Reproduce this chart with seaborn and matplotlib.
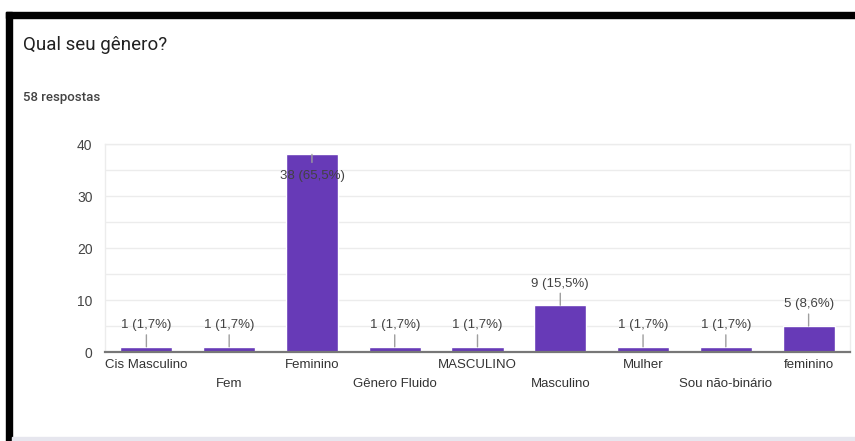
import matplotlib
matplotlib.use("Agg")
import matplotlib.pyplot as plt
from matplotlib.patches import Rectangle
import pandas as pd
import seaborn as sns

# answers to "Qual seu gênero?"
categories = ["Cis Masculino", "Fem", "Feminino", "Gênero Fluido", "MASCULINO",
              "Masculino", "Mulher", "Sou não-binário", "feminino"]
counts = [1, 1, 38, 1, 1, 9, 1, 1, 5]
percents = ["1,7%", "1,7%", "65,5%", "1,7%", "1,7%", "15,5%", "1,7%", "1,7%", "8,6%"]
total_responses = 58
y_ticks = [0, 10, 20, 30, 40]

sns.set_theme(style="white")
plt.rcParams["font.family"] = ["Liberation Sans", "DejaVu Sans"]

df = pd.DataFrame({"genero": categories, "n": counts})

W, H = 855, 441
fig = plt.figure(figsize=(W / 100, H / 100), dpi=100)
fig.patch.set_facecolor("white")
ax = fig.add_axes([105 / W, 1 - 352 / H, (850 - 105) / W, (352 - 144) / H])

sns.barplot(data=df, x="genero", y="n", color="#673ab7", saturation=1,
            width=0.63, ax=ax)

ax.set_xlim(-0.5, len(categories) - 0.5)
ax.set_ylim(0, 40)
ax.set_yticks(y_ticks)
ax.set_yticks(range(5, 40, 10), minor=True)
ax.grid(True, axis="y", which="both", color="#ececec", lw=1)
ax.set_axisbelow(True)
for side in ["left", "right", "top"]:
    ax.spines[side].set_color("#ececec")
    ax.spines[side].set_linewidth(1)
ax.spines["bottom"].set_color("#777777")
ax.spines["bottom"].set_linewidth(1.6)
ax.set_xlabel("")
ax.set_ylabel("")
ax.tick_params(axis="y", length=0, pad=9, labelsize=10, labelcolor="#444444")
ax.tick_params(axis="y", which="minor", length=0)
ax.tick_params(axis="x", length=0, pad=5, labelsize=9.5, labelcolor="#333333")
for lab in ax.get_xticklabels()[1::2]:
    lab.set_y(-0.092)

# value annotations with a small stem, like google forms
for i, (v, p) in enumerate(zip(counts, percents)):
    inside = v + 4 > ax.get_ylim()[1]
    sgn = -1 if inside else 1
    stem = 5.8 if inside else 8.6
    ax.annotate("", xy=(i, v), xytext=(0, sgn * stem), textcoords="offset points",
                arrowprops=dict(arrowstyle="-", color="#9e9e9e", lw=1,
                                shrinkA=0, shrinkB=0))
    ax.annotate(f"{v} ({p})", xy=(i, v), xytext=(0, sgn * 15.5),
                textcoords="offset points", ha="center", va="center",
                fontsize=9.5, color="#424242")

# header text
fig.text(23 / W, 1 - 45 / H, "Qual seu gênero?", fontsize=13.5, color="#212121",
         family=["Roboto", "DejaVu Sans"], va="center", ha="left")
fig.text(23 / W, 1 - 97 / H, f"{total_responses} respostas", fontsize=9.5,
         color="#424242", family=["Roboto", "DejaVu Sans"], weight="medium",
         va="center", ha="left")

# screenshot frame: thick black border top/left, light line at bottom
fig.patches.append(Rectangle((6 / W, 1 - 18 / H), 1 - 6 / W, 6 / H,
                             transform=fig.transFigure, color="black", zorder=10))
fig.patches.append(Rectangle((6 / W, 0), 6 / W, 1 - 12 / H,
                             transform=fig.transFigure, color="black", zorder=10))
fig.patches.append(Rectangle((12 / W, 0), 1, 4 / H,
                             transform=fig.transFigure, color="#e6e6ee", zorder=10))

fig.savefig("out.png", dpi=100)
